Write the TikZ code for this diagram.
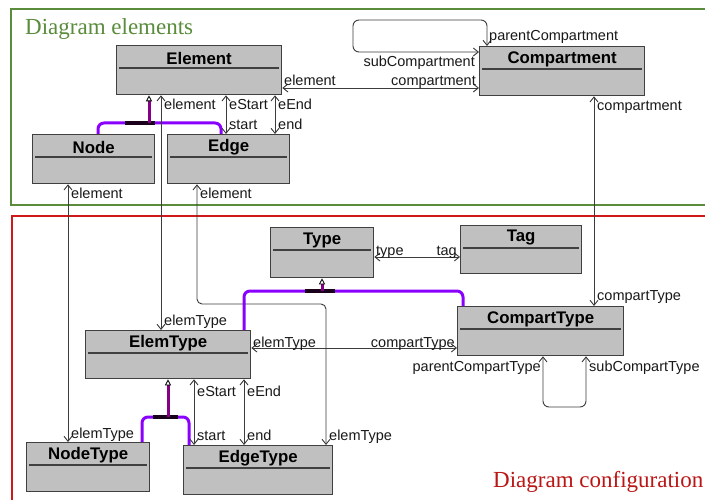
\documentclass[tikz,border=0pt]{standalone}
\usepackage{fontspec}
\setmainfont{Liberation Serif}
\newfontfamily\labelfont{Liberation Sans}
\usetikzlibrary{arrows.meta}

\definecolor{boxgray}{HTML}{C0C0C0}
\definecolor{boxline}{HTML}{404040}
\definecolor{linkgray}{HTML}{3C3C3C}
\definecolor{genviolet}{HTML}{8A00FF}
\definecolor{genstem}{HTML}{850085}
\definecolor{framegreen}{HTML}{5A8C3C}
\definecolor{framered}{HTML}{D01818}

\tikzset{
  classbox/.style={draw=boxline, fill=boxgray, line width=1.3pt, inner sep=0pt, anchor=north west},
  classtitle/.style={font=\labelfont\bfseries\fontsize{16.8}{16.8}\selectfont, inner sep=0pt, text=black},
  role/.style={font=\labelfont\fontsize{14.5}{14.5}\selectfont, inner sep=0pt, text height=10pt, text depth=3pt, text=black!90, yshift=-1.5pt},
  assoc/.style={draw=linkgray, line width=0.9pt,
    {Straight Barb[length=5pt,width=8pt]}-{Straight Barb[length=5pt,width=8pt]}},
  genbranch/.style={draw=genviolet, line width=3pt, rounded corners=6pt},
  genbar/.style={draw=black!80!genstem, line width=3.5pt},
  genstemline/.style={draw=genstem, line width=3pt,
    -{Triangle[length=6pt,width=6pt,fill=white,color=black,line width=0.8pt]}},
  frametitle/.style={font=\fontsize{23}{23}\selectfont, inner sep=0pt, anchor=base west}
}

% class box: name, left, top, right, bottom, title
\newcommand\classbox[6]{%
  \node[classbox, minimum width={#4pt-#2pt}, minimum height={#5pt-#3pt}] (#1) at (#2,#3) {};
  \node[classtitle] at ([yshift=-13pt]#1.north) {#6};
  \draw[boxline, line width=1.2pt] ([xshift=3pt,yshift=-23pt]#1.north west) -- ([xshift=-3pt,yshift=-23pt]#1.north east);
}

\begin{document}
\begin{tikzpicture}[x=1pt,y=-1pt]
\useasboundingbox (0,0) rectangle (705,500);
\fill[white] (0,0) rectangle (705,500);

% package frames
\draw[framegreen, line width=2pt] (705,9) -- (11,9) -- (11,205) -- (705,205);
\node[frametitle, text=framegreen] (titleA) at (25,35) {Diagram elements};
\draw[framered, line width=2pt] (705,216) -- (12,216) -- (12,500);
\node[frametitle, text=framered!90!black] (titleB) at (493,487) {Diagram configuration};

% classes
\classbox{elem}{116}{45}{281}{94}{Element}
\classbox{comp}{479}{46}{644}{95}{Compartment}
\classbox{node}{32}{134}{154}{183}{Node}
\classbox{edge}{167}{134}{289}{183}{Edge}
\classbox{type}{270}{227}{373}{277}{Type}
\classbox{tag}{460}{225}{581}{273}{Tag}
\classbox{ctype}{457}{306}{623}{355}{CompartType}
\classbox{etype}{85}{330}{250}{378}{ElemType}
\classbox{ntype}{26}{442}{149}{491}{NodeType}
\classbox{edgetype}{183}{445}{332}{494}{EdgeType}

% Element -- Compartment
\draw[assoc] (elem.east |- 0,88) -- (comp.west |- 0,88);
\node[role, anchor=west] at (284,81) {element};
\node[role, anchor=east] at (476,81) {compartment};

% Compartment nesting
\draw[assoc, rounded corners=6pt] (comp.north -| 487,0) -- (487,20) -- (353,20) -- (353,52) -- (comp.west |- 0,52);
\node[role, anchor=west] at (489,36) {parentCompartment};
\node[role, anchor=east] at (475,62) {subCompartment};

% Compartment -- CompartType
\draw[assoc] (comp.south -| 594,0) -- (ctype.north -| 594,0);
\node[role, anchor=west] at (597,106) {compartment};
\node[role, anchor=west] at (597,296) {compartType};

% Node, Edge specialise Element
\draw[genbranch] (node.north -| 98,0) -- (98,123) -- (221,123) -- (edge.north -| 221,0);
\draw[genbar] (125,123) -- (155,123);
\draw[genstemline] (149,123) -- (elem.south -| 149,0);

% Element -- ElemType
\draw[assoc] (elem.south -| 161,0) -- (etype.north -| 161,0);
\node[role, anchor=west] at (164,105) {element};
\node[role, anchor=west] at (164,320) {elemType};

% Element -- Edge (start / end)
\draw[assoc] (elem.south -| 226,0) -- (edge.north -| 226,0);
\node[role, anchor=west] at (229,105) {eStart};
\node[role, anchor=west] at (229,125) {start};
\draw[assoc] (elem.south -| 275,0) -- (edge.north -| 275,0);
\node[role, anchor=west] at (278,105) {eEnd};
\node[role, anchor=west] at (278,125) {end};

% Node -- NodeType
\draw[assoc] (node.south -| 68,0) -- (ntype.north -| 68,0);
\node[role, anchor=west] at (71,194) {element};
\node[role, anchor=west] at (71,433) {elemType};

% Edge -- EdgeType
\draw[assoc, rounded corners=5pt] (edge.south -| 197,0) -- (197,304) -- (326,304) -- (edgetype.north -| 326,0);
\node[role, anchor=west] at (200,194) {element};
\node[role, anchor=west] at (329,435) {elemType};

% Type -- Tag
\draw[assoc] (type.east |- 0,257) -- (tag.west |- 0,257);
\node[role, anchor=west] at (376,250) {type};
\node[role, anchor=east] at (457,250) {tag};

% ElemType, CompartType specialise Type
\draw[genbranch] (etype.north -| 244,0) -- (244,291) -- (463,291) -- (ctype.north -| 463,0);
\draw[genbar] (305,291) -- (335,291);
\draw[genstemline] (322,291) -- (type.south -| 322,0);

% ElemType -- CompartType
\draw[assoc] (etype.east |- 0,348) -- (ctype.west |- 0,348);
\node[role, anchor=west] at (253,342) {elemType};
\node[role, anchor=east] at (455,342) {compartType};

% CompartType nesting
\draw[assoc, rounded corners=6pt] (ctype.south -| 543,0) -- (543,407) -- (586,407) -- (ctype.south -| 586,0);
\node[role, anchor=east] at (541,366) {parentCompartType};
\node[role, anchor=west] at (589,366) {subCompartType};

% NodeType, EdgeType specialise ElemType
\draw[genbranch] (ntype.north -| 142,0) -- (142,417) -- (189,417) -- (edgetype.north -| 189,0);
\draw[genbar] (153,417) -- (178,417);
\draw[genstemline] (168,417) -- (etype.south -| 168,0);

% ElemType -- EdgeType (start / end)
\draw[assoc] (etype.south -| 194,0) -- (edgetype.north -| 194,0);
\node[role, anchor=west] at (197,391) {eStart};
\node[role, anchor=west] at (197,435) {start};
\draw[assoc] (etype.south -| 244,0) -- (edgetype.north -| 244,0);
\node[role, anchor=west] at (247,391) {eEnd};
\node[role, anchor=west] at (247,435) {end};
\end{tikzpicture}
\end{document}
